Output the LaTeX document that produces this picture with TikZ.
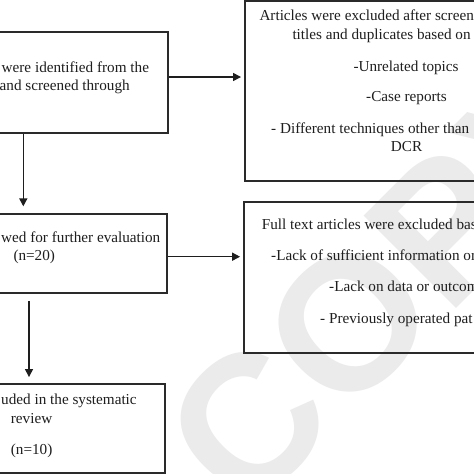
\documentclass[tikz,border=0pt]{standalone}
\usepackage{fontspec}
\setmainfont{Liberation Serif}
\newfontfamily\wmfont{Liberation Sans}
\usetikzlibrary{arrows.meta}
\definecolor{ink}{HTML}{1E1E1E}
\definecolor{frame}{HTML}{2A2A2A}
\definecolor{wmgray}{HTML}{EBEBEB}
\tikzset{
  box/.style={draw=frame, line width=1.9pt, fill=none, inner sep=0pt},
  txt/.style={anchor=base west, inner sep=0pt, text=ink, font=\fontsize{15.2}{18}\selectfont},
  arr/.style={draw=ink, line width=1.5pt, -{Triangle[length=8pt,width=8pt]}},
}
\begin{document}
\begin{tikzpicture}[x=1pt,y=-1pt]
\path[use as bounding box] (0,0) rectangle (474,474);
\clip (0,0) rectangle (474,474);
\fill[white] (0,0) rectangle (474,474);
% watermark
\node[rotate=45, text=wmgray, inner sep=0pt, font=\wmfont\fontsize{190}{190}\selectfont\bfseries] (wm) at (390,282) {COPY};
% boxes
\node[box, minimum width=228pt, minimum height=101.6pt] (B1) at (54.15,82.5) {};
\node[box, minimum width=276pt, minimum height=180pt] (B2) at (383,91) {};
\node[box, minimum width=276pt, minimum height=151.6pt] (B3) at (381.65,277.5) {};
\node[box, minimum width=226.7pt, minimum height=78.4pt] (B4) at (53.35,253.5) {};
\node[box, minimum width=225pt, minimum height=88.4pt] (B5) at (52.5,428.5) {};
% texts
\node[txt] (t11) at (1.5,72) {were identified from the};
\node[txt] (t12) at (-0.5,90.7) {and screened through};
\node[txt] (t21) at (259.3,20.7) {Articles were excluded after screen};
\node[txt] (t22) at (292.3,39.3) {titles and duplicates based on};
\node[txt] (t23) at (353.3,71) {-Unrelated topics};
\node[txt] (t24) at (366,101.7) {-Case reports};
\node[txt] (t25) at (271,133.3) {- Different techniques other than};
\node[txt] (t26) at (390.7,151.7) {DCR};
\node[txt] (t31) at (261.7,229.3) {Full text articles were excluded bas};
\node[txt] (t32) at (271,260.7) {-Lack of sufficient information or};
\node[txt] (t33) at (329,291.7) {-Lack on data or outcom};
\node[txt] (t34) at (320,323.3) {- Previously operated pat};
\node[txt] (t41) at (1,242.3) {wed for further evaluation};
\node[txt] (t42) at (13.3,260.7) {(n=20)};
\node[txt] (t51) at (1,404.3) {uded in the systematic};
\node[txt] (t52) at (10.7,423.3) {review};
\node[txt] (t53) at (10.7,454) {(n=10)};
% connectors
\coordinate (c1) at (0,77);
\coordinate (c2) at (23.3,0);
\coordinate (c3) at (0,256.7);
\coordinate (c4) at (29,0);
\draw[arr, shorten >=3pt] (B1.east |- c1) -- (B2.west |- c1);
\draw[arr, shorten >=7pt] (B1.south -| c2) -- (B4.north -| c2);
\draw[arr, shorten >=2.6pt] (B4.east |- c3) -- (B3.west |- c3);
\draw[arr, shorten <=7.3pt, shorten >=6.3pt] (B4.south -| c4) -- (B5.north -| c4);
\end{tikzpicture}
\end{document}
